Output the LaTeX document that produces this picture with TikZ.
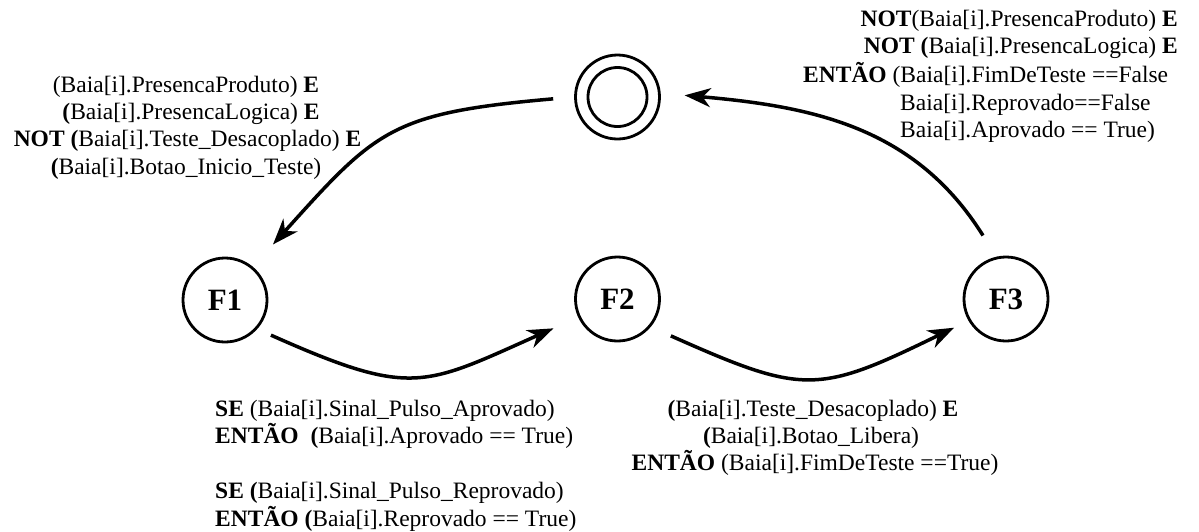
\documentclass[tikz,border=0pt]{standalone}
\usepackage{fontspec}
\setmainfont{Liberation Serif}
\usetikzlibrary{arrows.meta}
\begin{document}
\begin{tikzpicture}[x=1pt,y=1pt,
  state/.style={circle, draw, line width=2.8pt, minimum size=84pt, inner sep=0pt,
                font=\fontsize{31}{31}\selectfont\bfseries},
  ring/.style={circle, draw, line width=2.8pt, inner sep=0pt},
  trans/.style={line width=3.5pt, -{Stealth[length=26pt,width=19pt,inset=8pt]}},
  cond/.style={inner sep=0pt, font=\fontsize{23.5}{28}\selectfont},
]
\useasboundingbox (0,0) rectangle (1199,-531);

% final state (double ring) and the three phases
\node[ring, minimum size=84pt] (fin) at (617.5,-97) {};
\node[ring, minimum size=59pt] (fininner) at (fin) {};
\node[state] (F1) at (225,-300) {F1};
\node[state] (F2) at (617.5,-299) {F2};
\node[state] (F3) at (1006,-299) {F3};

% transitions
\draw[trans, shorten <=21pt, shorten >=30pt] (fin.180) to[out=185, in=48, looseness=1.3] (F1.50);
\draw[trans, shorten <=15pt, shorten >=27pt] (F1.-42) to[out=-24, in=204, looseness=1.35] (F2.205);
\draw[trans, shorten <=22pt, shorten >=16pt] (F2.-40) to[out=-24, in=206, looseness=1.35] (F3.210);
\draw[trans, shorten <=25pt, shorten >=24pt] (F3.103) to[out=122, in=-5, looseness=1.05] (fin.5);

% start condition (final state -> F1)
\node[cond, anchor=base] (c1a) at (186,-92) {(Baia[i].PresencaProduto) \textbf{E}};
\node[cond, anchor=base] (c1b) at (191,-119.5) {\textbf{(}Baia[i].PresencaLogica) \textbf{E}};
\node[cond, anchor=base] (c1c) at (187.5,-146.5) {\textbf{NOT (}Baia[i].Teste\_Desacoplado) \textbf{E}};
\node[cond, anchor=base] (c1d) at (186,-174) {\textbf{(}Baia[i].Botao\_Inicio\_Teste)};

% F1 -> F2
\node[cond, anchor=base west] (c2a) at (215,-416) {\textbf{SE} (Baia[i].Sinal\_Pulso\_Aprovado)};
\node[cond, anchor=base west] (c2b) at (215,-443.5) {\textbf{ENTÃO}\ \ \textbf{(}Baia[i].Aprovado == True)};
\node[cond, anchor=base west] (c2c) at (215,-498.5) {\textbf{SE (}Baia[i].Sinal\_Pulso\_Reprovado)};
\node[cond, anchor=base west] (c2d) at (215,-526.5) {\textbf{ENTÃO (}Baia[i].Reprovado == True)};

% F2 -> F3
\node[cond, anchor=base] (c3a) at (813,-416) {\textbf{(}Baia[i].Teste\_Desacoplado) \textbf{E}};
\node[cond, anchor=base] (c3b) at (811,-443) {\textbf{(}Baia[i].Botao\_Libera)};
\node[cond, anchor=base] (c3c) at (815,-470) {\textbf{ENTÃO} (Baia[i].FimDeTeste ==True)};

% F3 -> final state
\node[cond, anchor=base east] (c4a) at (1178,-26) {\textbf{NOT}(Baia[i].PresencaProduto) \textbf{E}};
\node[cond, anchor=base east] (c4b) at (1178,-53.5) {\textbf{NOT (}Baia[i].PresencaLogica) \textbf{E}};
\node[cond, anchor=base west] (c4c) at (803,-82) {\textbf{ENTÃO} (Baia[i].FimDeTeste ==False};
\node[cond, anchor=base west] (c4d) at (900,-110) {Baia[i].Reprovado==False};
\node[cond, anchor=base west] (c4e) at (900,-137.5) {Baia[i].Aprovado == True)};
\end{tikzpicture}
\end{document}
